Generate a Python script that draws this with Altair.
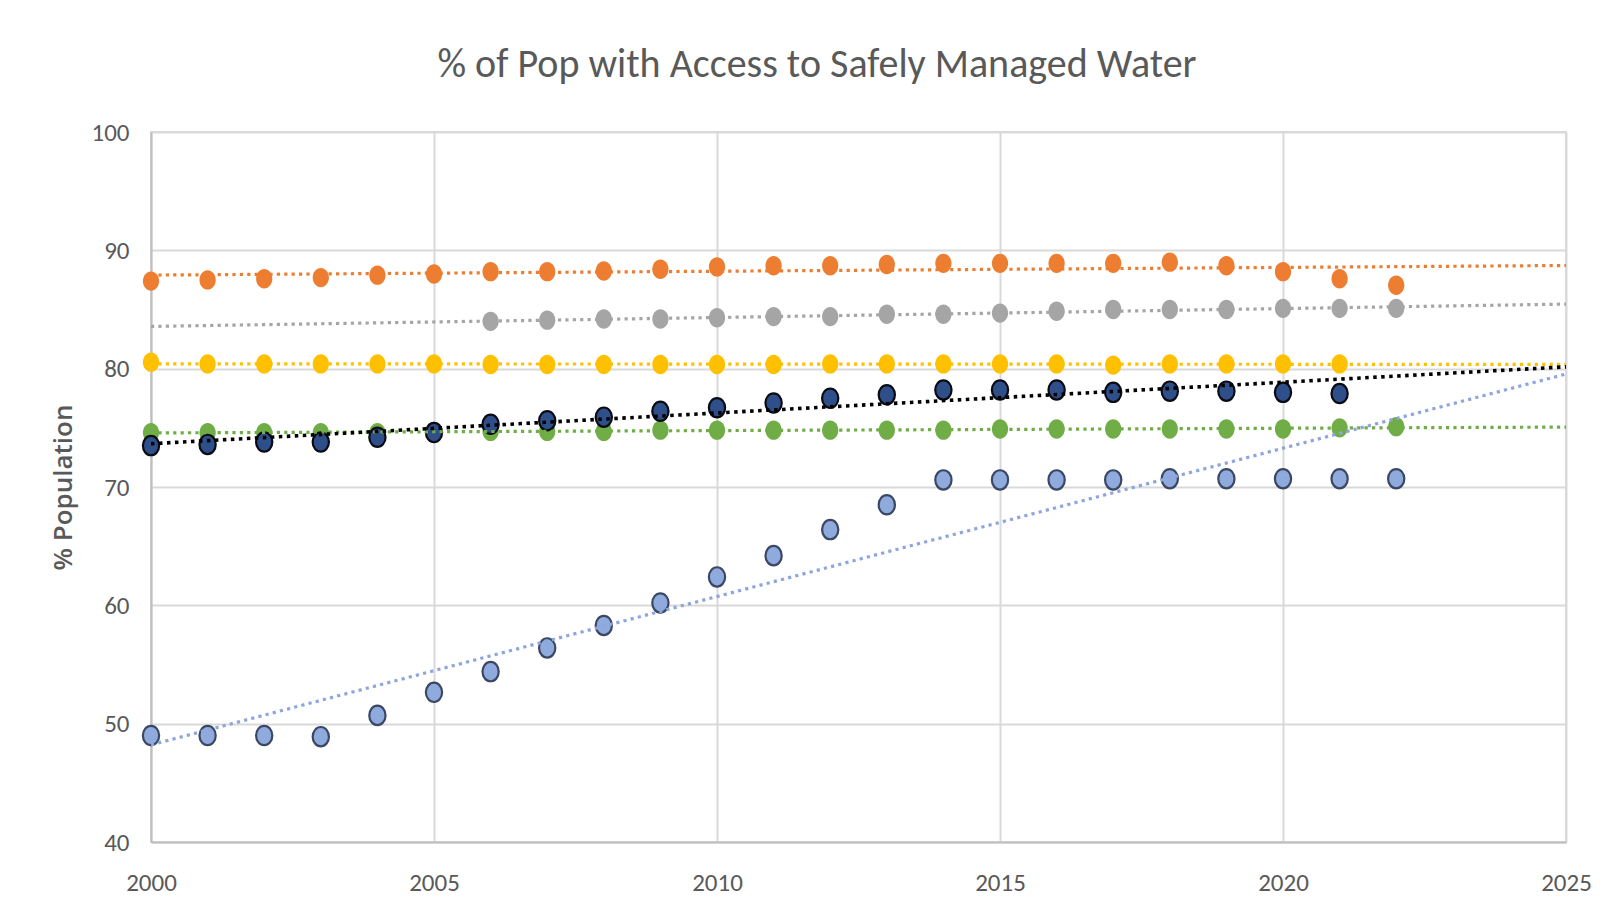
import altair as alt
import pandas as pd

# ---- data ----
years_full = list(range(2000, 2023))

orange_years = years_full
orange_vals = [87.4, 87.5, 87.6, 87.7, 87.9, 88.0, 88.2, 88.2, 88.25, 88.4, 88.6, 88.7,
               88.7, 88.8, 88.9, 88.9, 88.9, 88.9, 89.0, 88.7, 88.2, 87.6, 87.05]

gray_years = list(range(2006, 2023))
gray_vals = [84.0, 84.1, 84.2, 84.2, 84.3, 84.4, 84.4, 84.6, 84.6, 84.7, 84.85, 85.0,
             85.0, 85.0, 85.1, 85.1, 85.1]

yellow_years = list(range(2000, 2022))
yellow_vals = [80.55, 80.4, 80.4, 80.4, 80.4, 80.4, 80.35, 80.35, 80.35, 80.35, 80.35,
               80.35, 80.4, 80.4, 80.4, 80.4, 80.4, 80.3, 80.4, 80.4, 80.4, 80.4]

green_years = years_full
green_vals = [74.6, 74.6, 74.6, 74.6, 74.6, 74.7, 74.7, 74.7, 74.7, 74.8, 74.8, 74.8,
              74.8, 74.8, 74.8, 74.9, 74.9, 74.9, 74.9, 74.9, 74.9, 75.0, 75.1]

navy_years = list(range(2000, 2022))
navy_vals = [73.5, 73.6, 73.8, 73.8, 74.2, 74.6, 75.3, 75.6, 75.9, 76.4, 76.7, 77.1,
             77.5, 77.8, 78.2, 78.2, 78.2, 78.0, 78.1, 78.1, 78.0, 77.9]

blue_years = years_full
blue_vals = [49.0, 49.0, 49.0, 48.9, 50.7, 52.65, 54.4, 56.4, 58.3, 60.2, 62.4, 64.2,
             66.4, 68.5, 70.6, 70.6, 70.6, 70.6, 70.7, 70.7, 70.7, 70.7, 70.7]

x_ticks = [2000, 2005, 2010, 2015, 2020, 2025]
y_ticks = [40, 50, 60, 70, 80, 90, 100]

chart_title = ["% of Pop with Access to Safely Managed Water"]

# series: name, years, values, fill, stroke, trend colour
series = [
    ("Series 1", orange_years, orange_vals, "#ED7D31", None, "#ED7D31"),
    ("Series 2", gray_years, gray_vals, "#A5A5A5", None, "#A5A5A5"),
    ("Series 3", yellow_years, yellow_vals, "#FFC000", None, "#FFC000"),
    ("Series 4", green_years, green_vals, "#70AD47", None, "#70AD47"),
    ("Series 5", blue_years, blue_vals, "#8FAADC", "#3B4763", "#8FA6DC"),
    ("Series 6", navy_years, navy_vals, "#2F4F8A", "#0B0B14", "#000000"),
]

ELLIPSE = "M-1,0A1,1.19,0,1,0,1,0A1,1.19,0,1,0,-1,0Z"
LABEL_FONT = "Carlito, Lato, sans-serif"

x_enc = alt.X("year:Q",
              scale=alt.Scale(domain=[2000, 2025], nice=False, zero=False),
              axis=alt.Axis(values=x_ticks, format="d", title=None, labelPadding=28,
                            labelFlush=False))
y_enc = alt.Y("value:Q",
              scale=alt.Scale(domain=[40, 100], nice=False, zero=False),
              axis=alt.Axis(values=y_ticks, title="% Population", labelPadding=22,
                            titleX=-88, titleY=355, titleAngle=270, titleAlign="center",
                            titleBaseline="middle"))

point_layers = []
trend_layers = []
for name, yrs, vals, fill, stroke, tcol in series:
    df = pd.DataFrame({"year": yrs, "value": vals, "series": name})
    base = alt.Chart(df)
    kw = dict(shape=ELLIPSE, filled=True, size=264, fill=fill, opacity=1)
    if stroke:
        kw.update(stroke=stroke, strokeWidth=2.2)
    else:
        kw.update(strokeWidth=0)
    point_layers.append(base.mark_point(**kw).encode(x=x_enc, y=y_enc))
    dash = [3.5, 4.5] if tcol == "#000000" else [3.2, 4.2]
    width = 3.6 if tcol == "#000000" else 3.2
    trend_layers.append(
        base.transform_regression("year", "value", extent=[2000, 2025])
        .mark_line(color=tcol, strokeDash=dash, strokeWidth=width, strokeCap="butt")
        .encode(x=x_enc, y=y_enc)
    )

title_layer = (
    alt.Chart(pd.DataFrame({"t": chart_title}))
    .mark_text(font=LABEL_FONT, fontSize=40, color="#595959", align="center",
               baseline="alphabetic")
    .encode(text="t:N", x=alt.value(666), y=alt.value(-55))
)

chart = (
    alt.layer(*point_layers, *trend_layers, title_layer)
    .properties(
        width=1415,
        height=710,
        autosize=alt.AutoSizeParams(type="none"),
        padding={"left": 143, "top": 124, "right": 30, "bottom": 60},
        background="white",
    )
    .configure_view(stroke="#D9D9D9", strokeWidth=2)
    .configure_axis(
        labelFont=LABEL_FONT, labelFontSize=25, labelColor="#595959",
        gridColor="#D9D9D9", gridWidth=2, domainColor="#BFBFBF", domainWidth=2,
        ticks=False, titleFont="Open Sans", titleFontSize=26, titleColor="#595959",
        titleFontWeight=600,
    )
)

chart.save("out.html", embed_options={"renderer": "svg", "actions": False})
